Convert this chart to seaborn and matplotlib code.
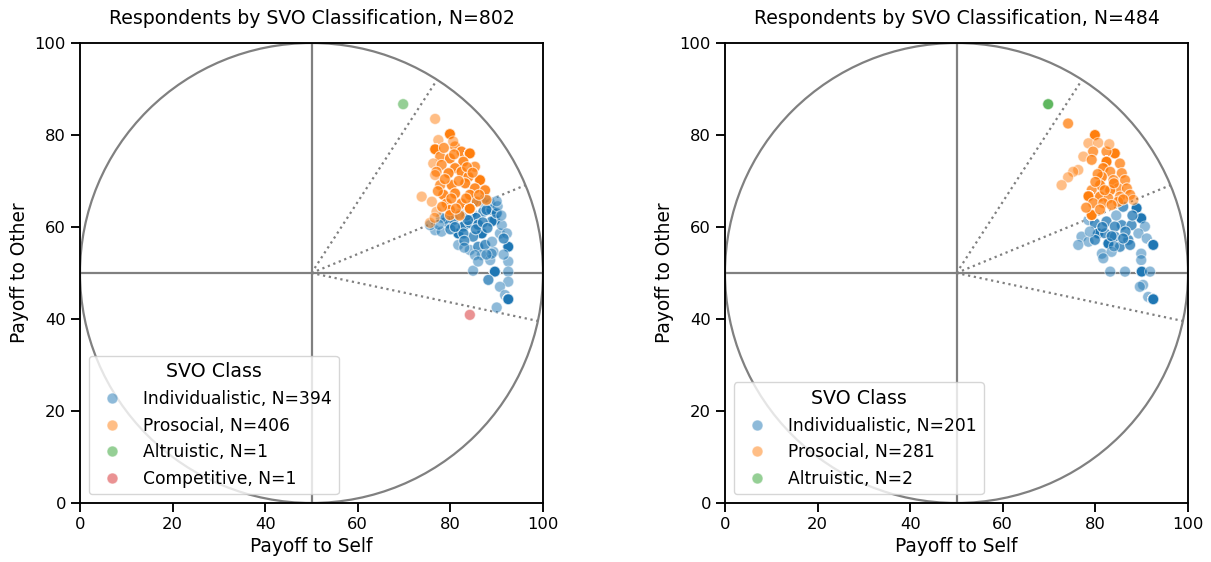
import numpy as np
import pandas as pd
import matplotlib
matplotlib.use("Agg")
import matplotlib.pyplot as plt
import seaborn as sns

# ---- Study 1 (N=802): distinct SVO positions (self, other) and respondent counts ----
s1_ind_self = [76.7, 78.1, 79.6, 81.7, 83.2, 84.6, 87.1, 88.9, 89.6, 86.8, 90.7, 91.1, 84.9, 81.7,
               84.2, 86.0, 87.5, 89.3, 86.8, 85.3, 88.6, 92.5, 92.5, 84.9, 89.6, 92.5, 88.2, 92.5,
               90.7, 91.8, 92.5, 90.0, 80.6, 82.8, 86.8, 88.6, 92.2, 84.2, 87.8, 88.9, 82.8, 88.9,
               85.5, 83.5, 86.0, 90.0, 91.5, 78.9, 75.6,
               78.0, 80.0, 82.0, 83.0, 85.5, 87.0, 88.0, 90.2, 91.0, 86.0, 83.0, 87.8, 89.0, 91.5,
               77.5, 85.0, 87.5, 90.0, 83.8, 81.0]
s1_ind_other = [59.3, 59.0, 60.8, 58.6, 60.4, 63.0, 63.3, 63.7, 61.5, 58.6, 58.6, 60.4, 57.9, 56.1,
                55.0, 55.7, 56.1, 54.6, 53.9, 53.9, 52.8, 55.7, 52.5, 50.5, 50.3, 50.3, 48.5, 48.1,
                47.0, 45.2, 44.3, 42.5, 61.5, 60.1, 65.5, 65.1, 58.6, 60.9, 63.7, 61.2, 58.6, 54.2,
                62.0, 62.5, 60.5, 63.0, 57.5, 61.8, 60.4,
                62.0, 59.5, 62.8, 57.0, 59.5, 61.0, 59.8, 64.5, 62.5, 52.5, 55.5, 54.0, 56.8, 54.0,
                60.5, 65.5, 66.3, 65.6, 61.5, 60.0]
s1_ind_count = [1, 1, 2, 45, 2, 3, 2, 43, 43, 43, 1, 1, 2, 1,
                1, 2, 2, 1, 1, 1, 1, 43, 1, 1, 43, 1, 2, 1,
                1, 1, 43, 1, 2, 2, 1, 1, 1, 2, 2, 2, 2, 1,
                3, 2, 3, 2, 2, 1, 1,
                1, 2, 1, 2, 2, 2, 2, 1, 1, 1, 1, 1, 1, 1,
                1, 1, 1, 1, 2, 2]

s1_pro_self = [76.7, 79.9, 77.4, 76.7, 81.0, 82.4, 84.2, 77.8, 79.9, 82.8, 76.3, 78.1, 81.0, 85.3,
               77.0, 79.6, 82.4, 86.4, 83.9, 76.7, 77.8, 80.3, 83.2, 85.3, 87.5, 78.5, 81.0, 84.2,
               73.8, 76.0, 79.2, 82.4, 85.7, 87.8, 77.0, 79.9, 84.2, 75.6, 79.9, 82.0,
               78.6, 80.8, 83.6, 78.8, 81.8, 84.8, 77.3, 80.2, 83.4, 86.2, 78.2, 81.2, 76.6, 80.6]
s1_pro_other = [83.5, 80.2, 78.9, 76.9, 77.5, 76.4, 76.0, 75.3, 74.9, 74.2, 73.8, 73.5, 72.8, 73.1,
                72.0, 71.7, 72.0, 70.2, 70.9, 71.3, 69.1, 69.1, 69.5, 68.4, 68.0, 67.0, 67.3, 67.0,
                66.6, 65.5, 65.1, 65.1, 65.5, 65.9, 63.3, 63.7, 64.0, 60.9, 62.6, 62.5,
                77.2, 75.8, 73.0, 70.4, 70.0, 71.8, 67.8, 66.2, 66.2, 67.0, 64.4, 64.0, 62.0, 78.6]
s1_pro_count = [1, 61, 1, 60, 2, 3, 60, 2, 3, 3, 1, 2, 3, 2,
                2, 3, 3, 60, 3, 1, 2, 3, 3, 3, 3, 3, 3, 3,
                1, 1, 3, 3, 2, 2, 1, 3, 60, 1, 2, 2,
                2, 2, 2, 2, 2, 2, 2, 2, 2, 2, 2, 2, 1, 1]

s1_alt_self, s1_alt_other, s1_alt_count = [69.8], [86.7], [1]
s1_com_self, s1_com_other, s1_com_count = [84.2], [40.9], [1]

# ---- Study 2 (N=484) ----
s2_ind_self = [78.5, 79.9, 82.4, 86.0, 88.9, 89.9, 85.7, 87.8, 90.7, 80.6, 82.1, 84.2, 77.0, 78.5,
               79.9, 84.2, 87.1, 89.3, 91.1, 76.3, 82.8, 85.3, 87.5, 92.5, 81.4, 83.5, 89.9, 81.7,
               89.9, 83.2, 86.4, 90.0, 91.8, 90.3, 89.6, 91.4, 92.5,
               81.5, 83.5, 86.5, 88.0, 84.5, 78.8, 86.0, 84.0]
s2_ind_other = [61.5, 60.8, 61.2, 64.4, 64.1, 61.9, 60.4, 60.4, 60.1, 58.6, 58.6, 60.1, 57.9, 56.8,
                57.2, 57.9, 57.2, 58.6, 57.5, 56.1, 56.4, 55.7, 56.1, 56.1, 54.2, 54.6, 54.2, 53.2,
                52.8, 50.3, 50.3, 50.3, 50.3, 47.4, 47.0, 44.8, 44.3,
                60.0, 58.0, 59.0, 62.5, 62.5, 59.0, 57.5, 55.8]
s2_ind_count = [1, 2, 2, 2, 26, 20, 2, 2, 1, 20, 2, 2, 1, 1,
                2, 2, 2, 1, 1, 1, 20, 2, 2, 20, 1, 1, 1, 1,
                1, 1, 1, 20, 1, 1, 1, 1, 20,
                2, 2, 2, 2, 1, 1, 2, 1]

s2_pro_self = [74.1, 79.9, 78.5, 80.6, 84.2, 82.4, 79.5, 77.4, 79.2, 82.4, 85.3, 81.7, 76.3, 75.2,
               74.1, 72.7, 83.2, 85.7, 81.4, 83.9, 86.4, 81.0, 84.9, 86.8, 79.2, 83.2, 87.5, 78.5,
               81.0, 82.8, 85.3, 79.5, 81.7, 84.9, 88.2, 79.2,
               80.5, 82.0, 84.0, 80.0, 86.0, 83.5, 81.0, 78.0, 83.0]
s2_pro_other = [82.5, 80.0, 78.2, 78.3, 76.0, 76.4, 76.4, 75.3, 74.6, 74.2, 73.8, 72.8, 72.4, 72.0,
                70.8, 69.1, 72.0, 71.7, 70.9, 70.2, 70.2, 69.1, 68.4, 68.4, 68.0, 68.0, 67.0, 66.7,
                66.6, 66.2, 66.6, 65.2, 65.2, 65.5, 65.9, 62.6,
                71.5, 68.0, 69.5, 69.8, 66.0, 64.8, 63.8, 64.2, 78.0]
s2_pro_count = [2, 41, 1, 1, 41, 2, 2, 1, 2, 41, 2, 3, 1, 1,
                1, 1, 2, 2, 3, 2, 2, 3, 2, 2, 2, 3, 2, 41,
                3, 2, 2, 2, 2, 2, 1, 41,
                2, 2, 2, 2, 2, 2, 2, 2, 1]

s2_alt_self, s2_alt_other, s2_alt_count = [69.8], [86.7], [2]

class_names = ["Individualistic", "Prosocial", "Altruistic", "Competitive"]
svo_boundaries_deg = [57.15, 22.45, -12.04]

palette = dict(zip(class_names, sns.color_palette("tab10", 4)))


def build_frame(groups):
    frames = []
    for name, xs, ys, ns in groups:
        frames.append(pd.DataFrame({
            "self": np.repeat(xs, ns),
            "other": np.repeat(ys, ns),
            "cls": name,
        }))
    return pd.concat(frames, ignore_index=True)


study1 = build_frame([
    ("Individualistic", s1_ind_self, s1_ind_other, s1_ind_count),
    ("Prosocial", s1_pro_self, s1_pro_other, s1_pro_count),
    ("Altruistic", s1_alt_self, s1_alt_other, s1_alt_count),
    ("Competitive", s1_com_self, s1_com_other, s1_com_count),
])
study2 = build_frame([
    ("Individualistic", s2_ind_self, s2_ind_other, s2_ind_count),
    ("Prosocial", s2_pro_self, s2_pro_other, s2_pro_count),
    ("Altruistic", s2_alt_self, s2_alt_other, s2_alt_count),
])

sns.set_theme(style="ticks", context="notebook")
plt.rcParams.update({
    "font.family": ["DejaVu Sans"],
    "text.color": "black", "axes.labelcolor": "black", "axes.edgecolor": "black",
    "xtick.color": "black", "ytick.color": "black",
    "xtick.labelsize": 11.8, "ytick.labelsize": 11.8,
    "axes.labelsize": 13.4, "axes.titlesize": 13.6,
    "legend.fontsize": 12.3, "legend.title_fontsize": 13.7,
    "xtick.major.size": 6.5, "ytick.major.size": 6.5,
    "xtick.major.width": 1.35, "ytick.major.width": 1.35,
    "axes.linewidth": 1.35,
})

fig = plt.figure(figsize=(12.11, 5.62), dpi=100)
ax_left = fig.add_axes([80 / 1211, 59 / 562, 463 / 1211, 460 / 562])
ax_right = fig.add_axes([725 / 1211, 59 / 562, 463 / 1211, 460 / 562])


def draw_panel(ax, df):
    counts = df["cls"].value_counts()
    present = [c for c in class_names if c in counts.index]
    labels = {c: f"{c}, N={counts[c]}" for c in present}
    df = df.assign(label=df["cls"].map(labels))
    hue_order = [labels[c] for c in present]
    pal = {labels[c]: palette[c] for c in present}

    # SVO ring, crosshair through the centre and the category boundary rays
    ax.add_patch(plt.Circle((50, 50), 50, fill=False, color="gray", lw=1.6, zorder=1))
    ax.axvline(50, color="gray", lw=1.6, zorder=1)
    ax.axhline(50, color="gray", lw=1.6, zorder=1)
    for deg in svo_boundaries_deg:
        r = np.deg2rad(deg)
        ax.plot([50, 50 + 50 * np.cos(r)], [50, 50 + 50 * np.sin(r)],
                ls=":", color="gray", lw=1.6, zorder=1)

    sns.scatterplot(data=df, x="self", y="other", hue="label", hue_order=hue_order,
                    palette=pal, alpha=0.5, s=62, edgecolor="white", linewidth=0.75,
                    ax=ax, zorder=3)
    ax.set_xlim(0, 100)
    ax.set_ylim(0, 100)
    ax.set_xticks([0, 20, 40, 60, 80, 100])
    ax.set_yticks([0, 20, 40, 60, 80, 100])
    ax.set_xlabel("Payoff to Self")
    ax.set_ylabel("Payoff to Other")
    ax.set_title(f"Respondents by SVO Classification, N={len(df)}", pad=14)
    ax.legend(title="SVO Class", loc="lower left")


draw_panel(ax_left, study1)
draw_panel(ax_right, study2)

fig.savefig("out.png", dpi=100)
